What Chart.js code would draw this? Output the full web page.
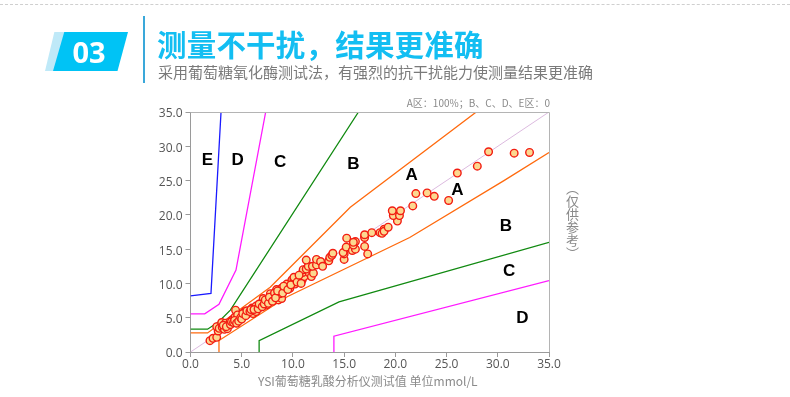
<!DOCTYPE html>
<html>
<head>
<meta charset="utf-8">
<script src="https://cdn.jsdelivr.net/npm/chart.js@4.4.1/dist/chart.umd.min.js"></script>
<style>
  html, body { margin: 0; padding: 0; background: #fff; }
  #page { position: relative; width: 790px; height: 397px; overflow: hidden; font-family: "Noto Sans CJK SC", "Noto Sans", sans-serif; }
  #grid { position: absolute; left: 0; top: 0; }
  .dash { position: absolute; left: 0; top: 4px; width: 790px; border-top: 1px dashed #cfcfcf; }
  .badge-light { position: absolute; left: 45px; top: 32px; width: 26px; height: 39px; background: #bfe9f8; clip-path: polygon(36% 0, 100% 0, 64% 100%, 0 100%); }
  .badge { position: absolute; left: 53px; top: 32px; width: 75px; height: 39px; background: #00c3f5; clip-path: polygon(15% 0, 100% 0, 86% 100%, 0 100%); }
  .badge-num { position: absolute; left: 53px; top: 32px; width: 72px; height: 39px; line-height: 39px; text-align: center; color: #fff; font: 700 29px "Open Sans", "Noto Sans", sans-serif; }
  .vbar { position: absolute; left: 143px; top: 16px; width: 2px; height: 67px; background: #3aa8da; }
  .title { position: absolute; left: 157px; top: 22px; font-size: 29.5px; font-weight: 700; color: #13bef2; white-space: nowrap; letter-spacing: 0.2px; }
  .sub { position: absolute; left: 158px; top: 61px; font-size: 15px; color: #7a7a7a; white-space: nowrap; }
  .note { position: absolute; right: 240px; top: 95px; font-size: 10px; color: #8a8a8a; white-space: nowrap; }
  .xtitle { position: absolute; left: 258px; top: 372px; font-size: 12px; color: #8a8a8a; white-space: nowrap; }
  .side { position: absolute; left: 565px; top: 182px; writing-mode: vertical-rl; text-orientation: upright; font-size: 13px; line-height: 14px; color: #8a8a8a; white-space: nowrap; }
</style>
</head>
<body>
<div id="page">
  <canvas id="grid" width="790" height="397"></canvas>
  <div class="dash"></div>
  <div class="badge-light"></div>
  <div class="badge"></div>
  <div class="badge-num">03</div>
  <div class="vbar"></div>
  <div class="title">测量不干扰，结果更准确</div>
  <div class="sub">采用葡萄糖氧化酶测试法，有强烈的抗干扰能力使测量结果更准确</div>
  <div class="note">A区：100%；B、C、D、E区：0</div>
  <div class="xtitle">YSI葡萄糖乳酸分析仪测试值 单位mmol/L</div>
  <div class="side">︵仅供参考︶</div>
</div>
<script>
// error grid boundaries, mmol/L  [reference, meter]
const zoneAUpper = [[0, 2.78], [1.67, 2.78], [7.78, 9.44], [15.6, 21.1], [27.9, 35]];
const zoneALower = [[2.78, 0], [2.78, 1.67], [9.44, 8.06], [21.4, 16.7], [30.6, 25], [35, 29.1]];
const zoneBUpper = [[0, 3.33], [1.67, 3.33], [2.78, 4.44], [3.89, 6.11], [16.4, 35]];
const zoneBLower = [[6.7, 0], [6.7, 1.67], [14.5, 7.3], [35, 16.0]];
const zoneCUpper = [[0, 5.56], [1.39, 5.56], [2.78, 6.94], [4.44, 11.94], [7.34, 35]];
const zoneCLower = [[14.0, 0], [14.0, 2.3], [35, 10.4]];
const zoneDUpper = [[0, 8.2], [2.0, 8.55], [2.98, 35]];
const identity = [[0, 0], [35, 35]];

// measured samples: YSI value vs meter value
const ysiValues = [1.9, 2.2, 2.56, 2.7, 2.56, 2.8, 3.05, 3.1, 3.4, 3.7, 3.86, 3.3, 3.6, 4.1, 4.35, 4.6, 4.8, 4.4, 4.6, 5.2,
  5.3, 5.6, 6.1, 6.4, 6.0, 6.4, 6.8, 6.95, 7.4, 7.1, 7.5, 7.8, 7.9, 8.15, 8.6, 8.9, 8.7, 8.4, 8.9, 9.2,
  9.7, 9.4, 10.2, 9.9, 10.1, 10.1, 10.9, 11.1, 10.95, 11.0, 11.6, 11.8, 12.0, 11.3, 11.5, 11.3, 11.9, 12.3, 12.3, 12.7,
  12.9, 13.5, 13.6, 13.8, 13.9, 15.0, 15.0, 14.9, 15.2, 15.25, 15.8, 16.1, 15.9, 16.1, 15.9, 17.0, 17.0, 17.3, 17.0, 17.0,
  17.7, 18.5, 18.7, 18.9, 18.9, 19.3, 20.2, 19.8, 20.4, 19.7, 20.5, 21.7, 22.0, 23.1, 23.8, 25.2, 26.05, 28.0, 29.1, 31.6,
  33.1, 3.2, 3.5, 3.9, 4.0, 4.2, 4.3, 4.5, 4.7, 4.9, 5.0, 5.1, 5.4, 5.5, 5.8, 5.9, 6.2, 6.6, 6.7, 7.0,
  7.2, 7.3, 7.6, 7.7, 8.0, 8.2, 8.3, 8.5, 9.0, 9.1, 9.5, 9.8, 10.4, 10.6, 10.8];
const meterValues = [1.65, 2.0, 2.14, 3.06, 3.7, 3.45, 4.3, 3.6, 4.2, 3.9, 4.4, 3.3, 3.4, 4.7, 5.1, 4.9, 5.4, 6.1, 5.4, 5.2,
  5.9, 5.6, 5.6, 5.9, 6.4, 6.7, 6.6, 7.2, 6.85, 7.8, 7.3, 8.5, 7.8, 8.2, 7.6, 7.8, 8.5, 9.1, 9.3, 9.0,
  9.3, 9.9, 9.9, 10.5, 10.6, 10.9, 10.5, 11.0, 11.6, 12.0, 11.5, 11.0, 11.5, 12.1, 12.5, 13.4, 12.5, 12.7, 13.5, 13.2,
  12.5, 13.3, 13.8, 14.1, 14.4, 13.5, 14.3, 14.5, 15.3, 16.6, 14.8, 15.0, 15.6, 16.1, 16.0, 16.9, 15.4, 14.3, 16.7, 17.1,
  17.4, 17.4, 17.3, 17.9, 17.6, 18.2, 19.1, 19.9, 19.9, 20.6, 20.6, 21.3, 23.1, 23.2, 22.7, 22.1, 26.1, 27.1, 29.2, 29.0,
  29.1, 3.9, 3.7, 4.0, 4.4, 4.3, 4.6, 4.2, 4.5, 5.0, 4.8, 5.6, 5.3, 6.0, 5.9, 6.2, 6.2, 6.3, 7.0, 6.6,
  7.0, 7.6, 7.1, 8.0, 7.4, 8.6, 7.9, 8.9, 8.6, 9.6, 9.1, 9.8, 10.2, 11.2, 10.0];

// zone letters
const zoneLetters = ['E', 'D', 'C', 'B', 'A', 'A', 'B', 'C', 'D'];
const letterX = [1.65, 4.6, 8.75, 15.9, 21.6, 26.05, 30.8, 31.1, 32.4];
const letterY = [28.0, 28.0, 27.7, 27.3, 25.8, 23.6, 18.3, 11.7, 4.9];

const toXY = arr => arr.map(p => ({x: p[0], y: p[1]}));
const lineSet = (pts, color, w) => ({
  data: toXY(pts), showLine: true, borderColor: color, borderWidth: w || 1.3,
  pointRadius: 0, fill: false, order: 2
});

const samples = ysiValues.map((v, i) => ({x: v, y: meterValues[i]}));

const framePlugin = {
  id: 'frame',
  afterDraw(chart) {
    const a = chart.chartArea, c = chart.ctx;
    c.save();
    c.strokeStyle = '#b4b4b4';
    c.lineWidth = 1;
    c.beginPath();
    c.moveTo(a.left, a.top + 0.5);
    c.lineTo(a.right + 0.5, a.top + 0.5);
    c.lineTo(a.right + 0.5, a.bottom);
    c.stroke();
    c.restore();
  }
};

const lettersPlugin = {
  id: 'letters',
  afterDatasetsDraw(chart) {
    const c = chart.ctx, xs = chart.scales.x, ys = chart.scales.y;
    c.save();
    c.fillStyle = '#000';
    c.font = 'bold 17px "Liberation Sans", Arial, sans-serif';
    c.textAlign = 'center';
    c.textBaseline = 'middle';
    zoneLetters.forEach((t, i) => {
      c.fillText(t, xs.getPixelForValue(letterX[i]), ys.getPixelForValue(letterY[i]));
    });
    c.restore();
  }
};

const tickFont = {family: '"Open Sans", "Noto Sans", sans-serif', size: 12};

new Chart(document.getElementById('grid').getContext('2d'), {
  type: 'scatter',
  data: {
    datasets: [
      {data: samples, pointRadius: 3.8, pointBorderWidth: 1.4, pointBackgroundColor: '#fcd890',
       pointBorderColor: '#f21d12', showLine: false, order: 0},
      lineSet(identity, '#dcbadf', 1),
      lineSet(zoneAUpper, '#ff6a0e'),
      lineSet(zoneALower, '#ff6a0e'),
      lineSet(zoneBUpper, '#118a11'),
      lineSet(zoneBLower, '#118a11'),
      lineSet(zoneCUpper, '#ff1aff'),
      lineSet(zoneCLower, '#ff1aff'),
      lineSet(zoneDUpper, '#1a1aff')
    ]
  },
  options: {
    responsive: false,
    animation: false,
    layout: {padding: {left: 150.5, right: 241, top: 112, bottom: 20}},
    plugins: {legend: {display: false}, tooltip: {enabled: false}},
    scales: {
      x: {
        type: 'linear', min: 0, max: 35,
        ticks: {stepSize: 5, color: '#555', font: tickFont, padding: 0, callback: v => v.toFixed(1)},
        grid: {drawOnChartArea: false, tickLength: 5, color: '#9a9a9a'},
        border: {color: '#9a9a9a'},
        afterFit: s => { s.height = 25; }
      },
      y: {
        type: 'linear', min: 0, max: 35,
        ticks: {stepSize: 5, color: '#555', font: tickFont, padding: 3, labelOffset: 2, callback: v => v.toFixed(1)},
        grid: {drawOnChartArea: false, tickLength: 5, color: '#9a9a9a'},
        border: {color: '#9a9a9a'},
        afterFit: s => { s.width = 40; }
      }
    }
  },
  plugins: [framePlugin, lettersPlugin]
});
</script>
</body>
</html>
